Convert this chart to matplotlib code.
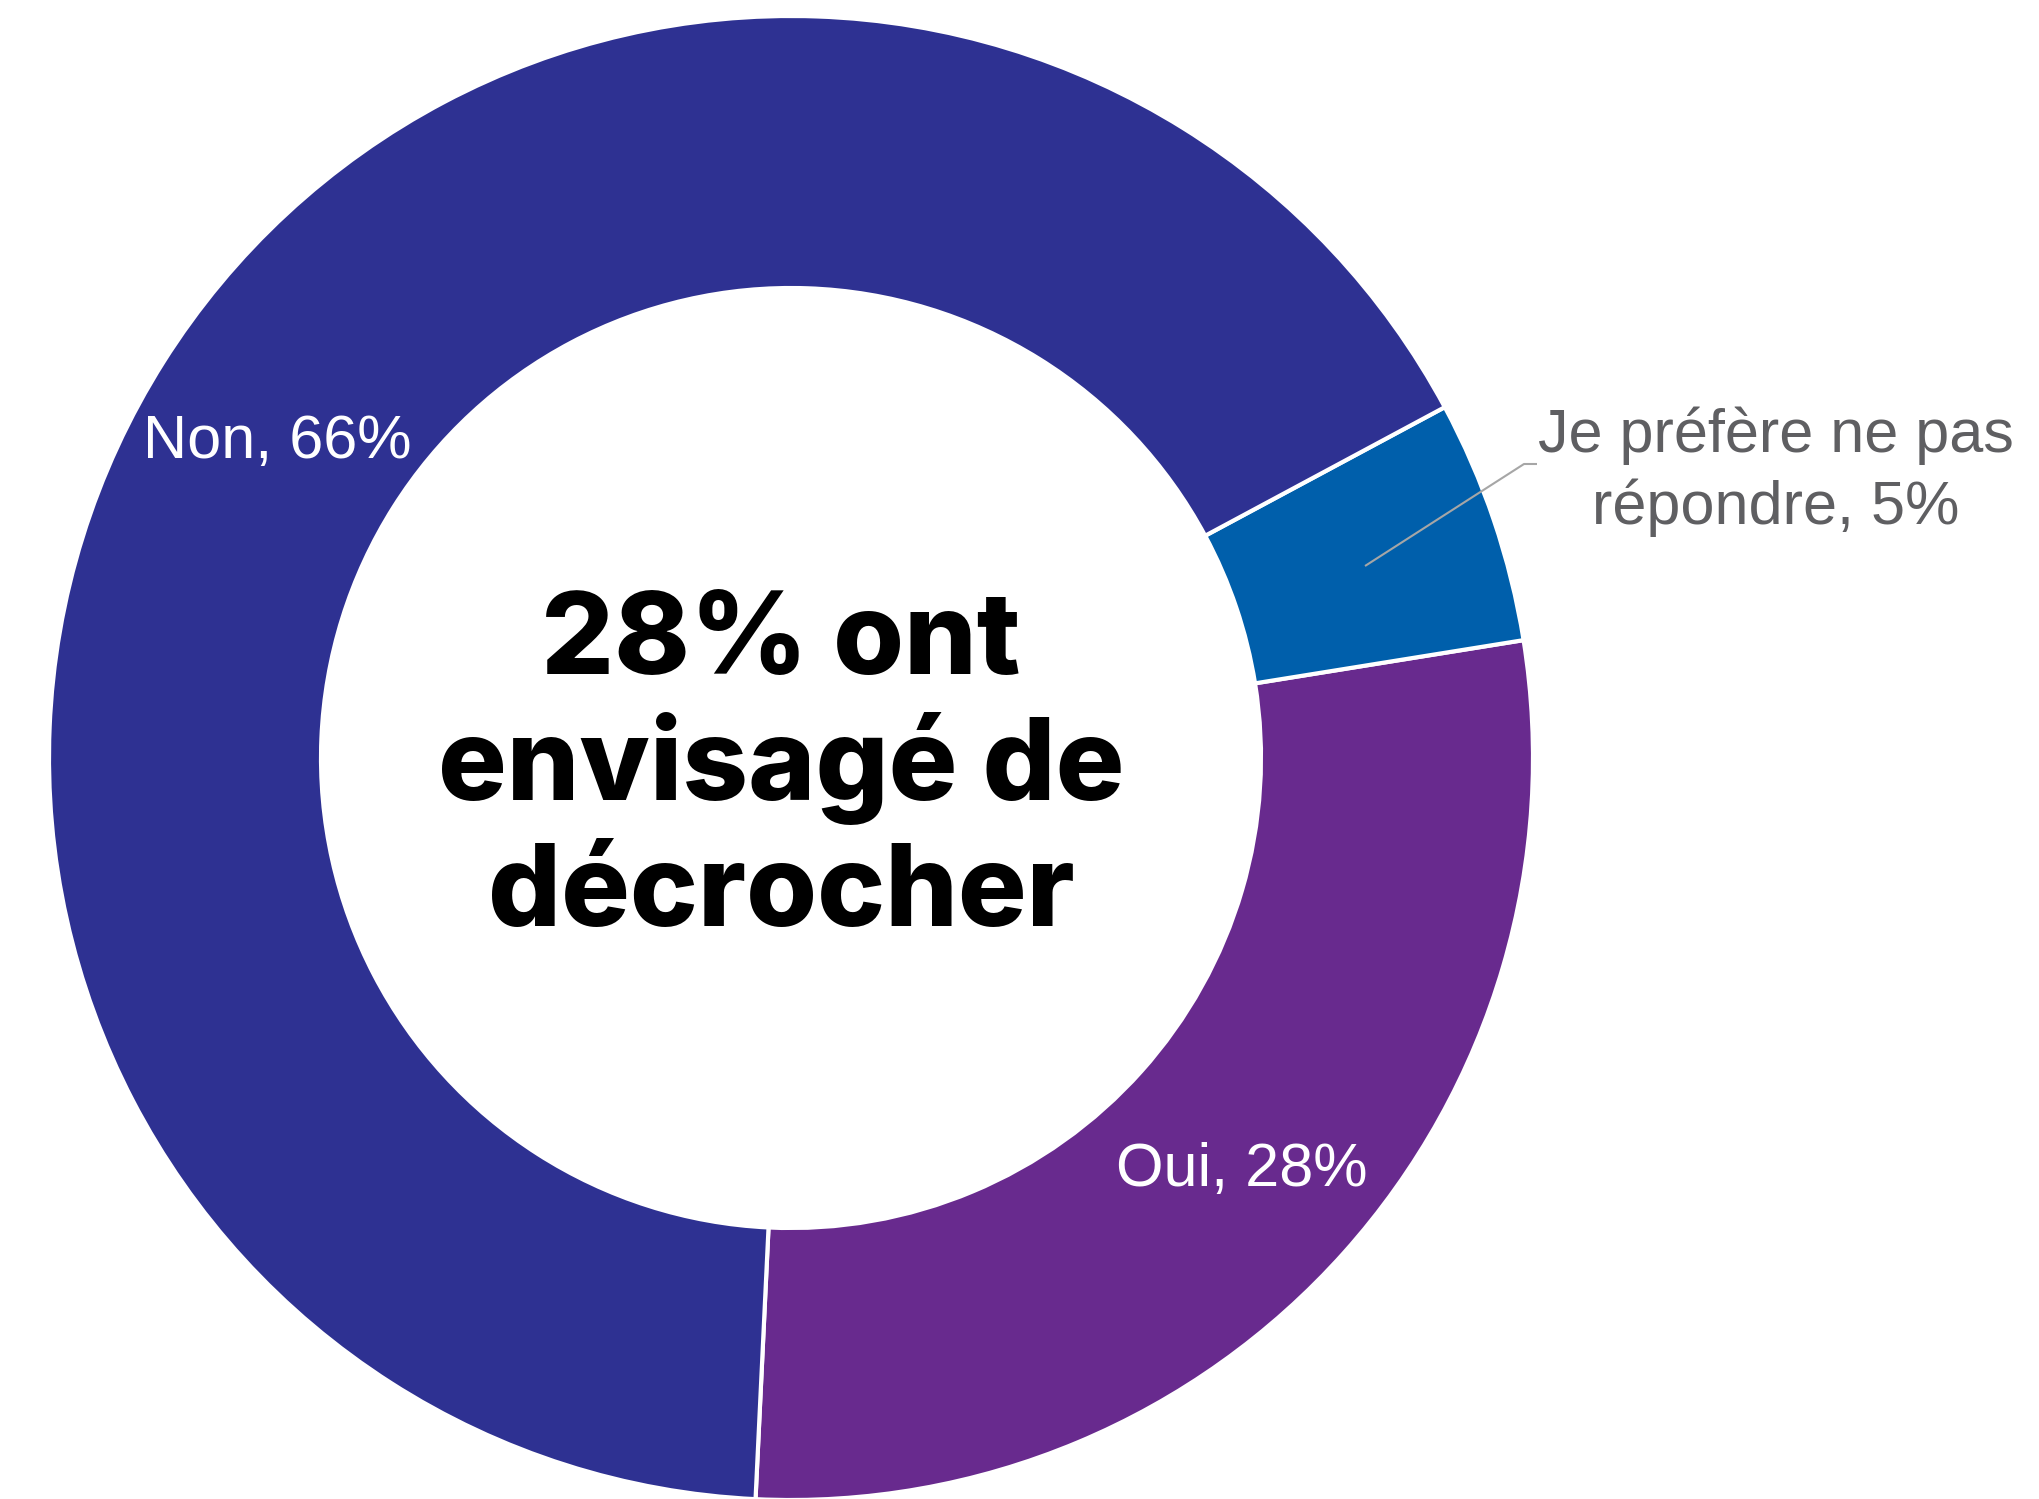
"""
Donut chart: share of respondents who considered dropping out.
"""
import matplotlib
matplotlib.use("Agg")
import matplotlib.pyplot as plt

categories = ["Oui", "Je préfère ne pas\nrépondre", "Non"]
shares = [28.3, 5.3, 66.4]
pct_labels = ["28%", "5%", "66%"]
colors = ["#682A8E", "#005FAB", "#2E3192"]

center_lines = ["28% ont", "envisagé de", "décrocher"]

W, H = 2039, 1499
CX, CY = 791, H - 758     # donut centre, figure pixels (y up)
R_OUT, R_IN = 742, 470

fig = plt.figure(figsize=(W / 100, H / 100), dpi=100)
ax = fig.add_axes([0, 0, 1, 1])

wedges, _ = ax.pie(
    shares,
    colors=colors,
    startangle=-92.74,
    counterclock=True,
    center=(CX, CY),
    radius=R_OUT,
    wedgeprops=dict(width=R_OUT - R_IN, edgecolor="white", linewidth=3),
)
ax.set_xlim(0, W)
ax.set_ylim(0, H)
ax.set_aspect("equal")
ax.set_axis_off()

# Slice labels
label_font = dict(family="Liberation Sans", fontsize=44)
ax.text(1242, H - 1186, f"{categories[0]}, {pct_labels[0]}", color="white",
        ha="center", va="baseline", **label_font)
ax.text(277, H - 458, f"{categories[2]}, {pct_labels[2]}", color="white",
        ha="center", va="baseline", **label_font)
ax.text(1776, H - 452, "Je préfère ne pas", color="#5F5F62",
        ha="center", va="baseline", **label_font)
ax.text(1776, H - 524, f"répondre, {pct_labels[1]}", color="#5F5F62",
        ha="center", va="baseline", **label_font)

# Leader line for the small slice
ax.plot([1365, 1524, 1537], [H - 566, H - 464, H - 464],
        color="#A6A6A6", linewidth=1.5, solid_capstyle="butt")

# Centre message
for i, line in enumerate(center_lines):
    ax.text(781, H - (674 + 126 * i), line, color="black",
            family="Inter", fontweight="heavy", fontsize=82.5,
            ha="center", va="baseline")

fig.savefig("out.png", dpi=100, facecolor="white")
